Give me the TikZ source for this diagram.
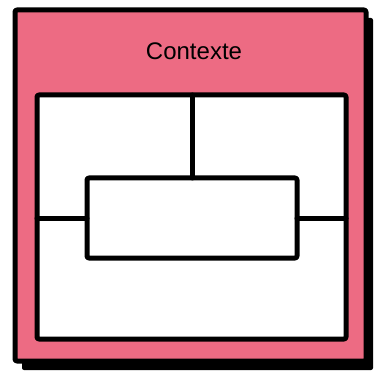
\documentclass[tikz,border=0pt]{standalone}
\usepackage{fontspec}
\setmainfont{Liberation Sans}
\definecolor{ctxpink}{HTML}{ED6B83}
\begin{document}
\begin{tikzpicture}[x=1pt,y=-1pt,
  box/.style={draw=black,line width=5pt,line join=round,rounded corners=2pt,inner sep=0pt,outer sep=0pt},
  link/.style={draw=black,line width=5pt,line cap=round}]
\useasboundingbox (0,0) rectangle (374,371);
% shadow
\fill[black,rounded corners=2pt] (22,18) rectangle (373,370);
% outer context box
\node[box,fill=ctxpink,minimum width=351pt,minimum height=351pt] (outer) at (190.5,185.5) {};
\node[font=\fontsize{24}{27}\selectfont] (title) at (194,51) {Contexte};
% inner box
\node[box,fill=white,minimum width=309pt,minimum height=244pt] (inner) at (191.5,217) {};
% central box
\node[box,fill=white,minimum width=210pt,minimum height=80pt] (central) at (192,218) {};
% connectors
\draw[link] (central.north |- inner.north) -- (central.north);
\draw[link] (inner.west |- central.west) -- (central.west);
\draw[link] (central.east) -- (inner.east |- central.east);
\end{tikzpicture}
\end{document}
